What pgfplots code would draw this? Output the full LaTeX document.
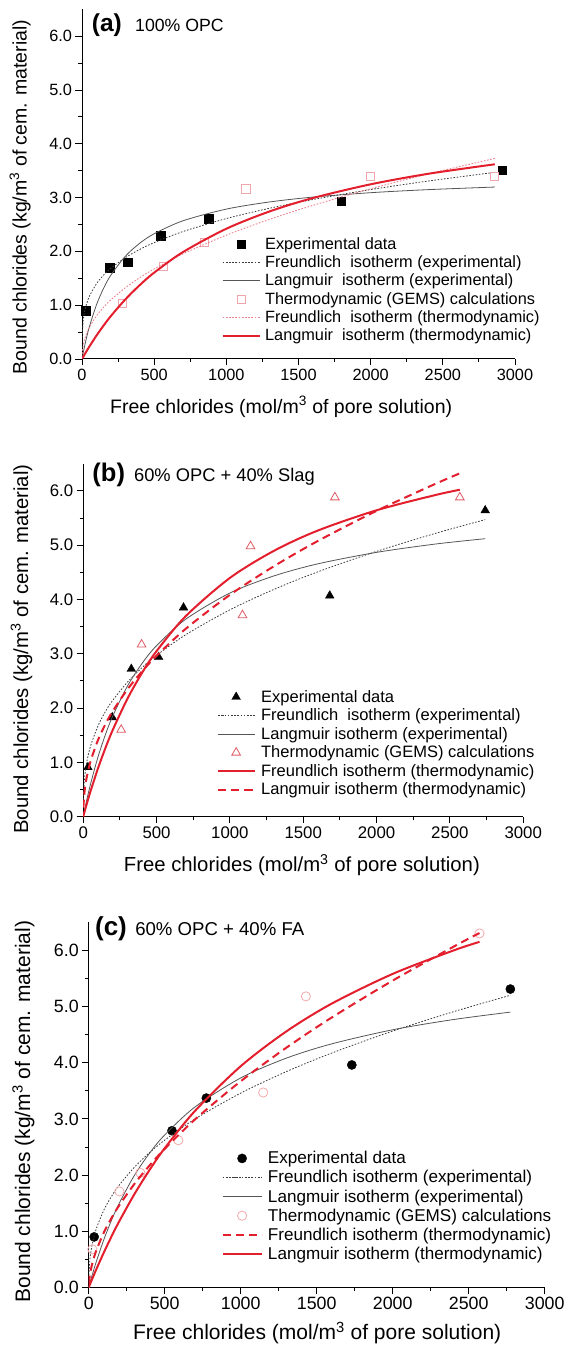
\documentclass[border=0pt]{standalone}
\usepackage{fontspec}
\setmainfont{Liberation Sans}
\usepackage{pgfplots}
\pgfplotsset{compat=1.18}
\definecolor{myred}{RGB}{227,30,45}
\definecolor{pinka}{RGB}{240,165,172}
\definecolor{pinkdot}{RGB}{236,128,142}
\definecolor{redtri}{RGB}{222,90,100}
\definecolor{pinkc}{RGB}{244,170,172}
\definecolor{dgray}{RGB}{60,60,60}
\definecolor{mgray}{RGB}{85,85,85}
\pgfplotsset{
 chl/.style={
  scale only axis, xmin=0, xmax=3000, ymin=0, ymax=6.5,
  clip mode=individual,
  axis x line*=bottom, axis y line*=left,
  axis line style={-, line width=1pt},
  tick align=outside, major tick length=6.5pt, minor tick length=3.5pt,
  every tick/.append style={black, line width=0.9pt},
  xtick={0,500,...,3000}, ytick={0,1,...,6},
  minor x tick num=1, minor y tick num=1,
  /pgf/number format/assume math mode=true,
  xticklabel style={/pgf/number format/1000 sep={}},
  yticklabel style={/pgf/number format/.cd, fixed, fixed zerofill, precision=1},
  legend cell align=left,
  legend image code/.code={\draw[mark repeat=2,mark phase=2,##1] plot coordinates {(0pt,0pt) (18.5pt,0pt) (37pt,0pt)};},
  xlabel={Free chlorides (mol/m\textsuperscript{3} of pore solution)},
  ylabel={Bound chlorides (kg/m\textsuperscript{3} of cem. material)},
 },
 fe/.style={dgray, line width=0.8pt, dash pattern=on 1.6pt off 1.6pt, smooth, no markers},
 le/.style={mgray, line width=0.8pt, smooth, no markers},
}
\begin{document}
\begin{tikzpicture}
\useasboundingbox (0,0) rectangle (567pt,1346pt);
% ---------------- (a) ----------------
\begin{axis}[chl, at={(82pt,987pt)}, anchor=south west, width=433pt, height=349.7pt,
 tick label style={font=\fontsize{16.3}{19}\selectfont},
 label style={font=\fontsize{19.5}{23}\selectfont},
 xlabel style={at={(axis description cs:0.46,-0.137)}, anchor=center},
 ylabel style={at={(axis description cs:-0.143,0.463)}, anchor=center},
 legend style={at={(0.322,0.355)}, anchor=north west, draw=none, fill=none, inner sep=0pt,
   column sep=4.5pt, font=\fontsize{16.3}{19}\selectfont, nodes={inner xsep=0pt, inner ysep=2.5pt}},
]
\addplot[only marks, mark=square*, mark size=4.2pt, black] coordinates {
(25,0.90) (193,1.70) (318,1.80) (546,2.29) (877,2.61) (1797,2.93) (2912,3.51)};
\addlegendentry{Experimental data}
\addplot[fe] coordinates {
(1,0.401) (10,0.749) (25,0.960) (50,1.159) (100,1.398) (150,1.561) (200,1.687) (300,1.883) (400,2.036) (500,2.163) (700,2.369) (1000,2.610) (1300,2.802) (1600,2.964) (2000,3.149) (2400,3.308) (2860,3.469)};
\addlegendentry{Freundlich\ \ isotherm (experimental)}
\addplot[le] coordinates {
(0,0) (10,0.136) (25,0.321) (50,0.588) (100,1.005) (150,1.317) (200,1.558) (300,1.909) (400,2.151) (500,2.328) (700,2.569) (1000,2.786) (1300,2.919) (1600,3.009) (2000,3.091) (2400,3.148) (2860,3.196)};
\addlegendentry{Langmuir\ \ isotherm (experimental)}
\addplot[only marks, mark=square, mark size=4.2pt, pinka, mark options={line width=0.8pt}] coordinates {
(281,1.03) (564,1.72) (847,2.17) (1135,3.16) (1997,3.39) (2857,3.39)};
\addlegendentry{Thermodynamic (GEMS) calculations}
\addplot[pinkdot, line width=0.9pt, dash pattern=on 1.6pt off 1.6pt, smooth, no markers] coordinates {
(1,0.097) (10,0.278) (25,0.423) (50,0.582) (100,0.800) (150,0.963) (200,1.100) (300,1.324) (400,1.511) (500,1.674) (700,1.954) (1000,2.301) (1300,2.596) (1600,2.856) (2000,3.164) (2400,3.440) (2860,3.728)};
\addlegendentry{Freundlich\ \ isotherm (thermodynamic)}
\addplot[myred, line width=2pt, smooth, no markers] coordinates {
(0,0) (10,0.047) (25,0.116) (50,0.227) (100,0.434) (150,0.623) (200,0.798) (300,1.107) (400,1.373) (500,1.605) (700,1.988) (1000,2.421) (1300,2.743) (1600,2.992) (2000,3.247) (2400,3.443) (2860,3.619)};
\addlegendentry{Langmuir\ \ isotherm (thermodynamic)}
\node[anchor=base west, inner sep=0pt, font=\bfseries\fontsize{24.5}{28}\selectfont] at (axis cs:67,6.08) {(a)};
\node[anchor=base west, inner sep=0pt, font=\fontsize{17.7}{21}\selectfont] at (axis cs:367,6.08) {100\% OPC};
\end{axis}
% ---------------- (b) ----------------
\begin{axis}[chl, at={(83.2pt,529.3pt)}, anchor=south west, width=440pt, height=353pt,
 tick label style={font=\fontsize{16.8}{20}\selectfont},
 label style={font=\fontsize{20.3}{24}\selectfont},
 xlabel style={at={(axis description cs:0.497,-0.137)}, anchor=center},
 ylabel style={at={(axis description cs:-0.140,0.475)}, anchor=center},
 legend style={at={(0.304,0.366)}, anchor=north west, draw=none, fill=none, inner sep=0pt,
   column sep=6pt, font=\fontsize{16.5}{19.5}\selectfont, nodes={inner xsep=0pt, inner ysep=2.55pt}},
 legend image code/.code={\draw[mark repeat=2,mark phase=2,#1] plot coordinates {(0pt,0pt) (18pt,0pt) (36pt,0pt)};},
]
\addplot[only marks, mark=triangle*, mark size=5pt, black] coordinates {
(32,0.91) (198,1.83) (328,2.72) (514,2.94) (684,3.85) (1681,4.07) (2741,5.64)};
\addlegendentry{Experimental data}
\addplot[fe] coordinates {
(1,0.320) (10,0.730) (25,1.014) (50,1.300) (100,1.668) (150,1.929) (200,2.138) (300,2.473) (400,2.742) (500,2.971) (700,3.352) (1000,3.809) (1300,4.185) (1600,4.509) (2000,4.885) (2400,5.216) (2741,5.470)};
\addlegendentry{Freundlich\ \ isotherm (experimental)}
\addplot[le] coordinates {
(0,0) (10,0.131) (25,0.317) (50,0.601) (100,1.092) (150,1.500) (200,1.845) (300,2.397) (400,2.817) (500,3.149) (700,3.638) (1000,4.118) (1300,4.433) (1600,4.656) (2000,4.867) (2400,5.020) (2741,5.119)};
\addlegendentry{Langmuir isotherm (experimental)}
\addplot[only marks, mark=triangle, mark size=5pt, redtri, mark options={line width=0.8pt}] coordinates {
(259,1.60) (398,3.17) (1086,3.71) (1141,4.98) (1716,5.88) (2568,5.88)};
\addlegendentry{Thermodynamic (GEMS) calculations}
\addplot[myred, line width=2pt, smooth, no markers] coordinates {
(0,0) (10,0.098) (25,0.241) (50,0.468) (100,0.883) (150,1.254) (200,1.588) (300,2.164) (400,2.643) (500,3.048) (700,3.695) (1000,4.396) (1300,4.895) (1600,5.269) (2000,5.642) (2400,5.922) (2568,6.020)};
\addlegendentry{Freundlich isotherm (thermodynamic)}
\addplot[myred, line width=2pt, dash pattern=on 8pt off 5pt, smooth, no markers] coordinates {
(1,0.166) (10,0.484) (25,0.739) (50,1.019) (100,1.405) (150,1.696) (200,1.937) (300,2.338) (400,2.671) (500,2.962) (700,3.462) (1000,4.084) (1300,4.611) (1600,5.077) (2000,5.631) (2400,6.127) (2568,6.322)};
\addlegendentry{Langmuir isotherm (thermodynamic)}
\node[anchor=base west, inner sep=0pt, font=\bfseries\fontsize{25.5}{29}\selectfont] at (axis cs:62,6.17) {(b)};
\node[anchor=base west, inner sep=0pt, font=\fontsize{18.3}{22}\selectfont] at (axis cs:346,6.17) {60\% OPC + 40\% Slag};
\end{axis}
% ---------------- (c) ----------------
\begin{axis}[chl, at={(88.7pt,58.5pt)}, anchor=south west, width=456pt, height=365.3pt,
 tick label style={font=\fontsize{17.8}{21}\selectfont},
 label style={font=\fontsize{21}{25}\selectfont},
 xlabel style={at={(axis description cs:0.501,-0.125)}, anchor=center},
 ylabel style={at={(axis description cs:-0.143,0.481)}, anchor=center},
 legend style={at={(0.291,0.380)}, anchor=north west, draw=none, fill=none, inner sep=0pt,
   column sep=5.4pt, font=\fontsize{17.1}{20}\selectfont, nodes={inner xsep=0pt, inner ysep=2.6pt}},
 legend image code/.code={\draw[mark repeat=2,mark phase=2,#1] plot coordinates {(0pt,0pt) (19.5pt,0pt) (39pt,0pt)};},
]
\addplot[only marks, mark=*, mark size=4.6pt, black] coordinates {
(36,0.90) (548,2.79) (774,3.37) (1731,3.96) (2774,5.31)};
\addlegendentry{Experimental data}
\addplot[fe] coordinates {
(1,0.219) (10,0.550) (25,0.792) (50,1.045) (100,1.379) (150,1.621) (200,1.819) (300,2.138) (400,2.399) (500,2.622) (700,3.000) (1000,3.459) (1300,3.841) (1600,4.173) (2000,4.563) (2400,4.907) (2774,5.200)};
\addlegendentry{Freundlich isotherm (experimental)}
\addplot[le] coordinates {
(0,0) (10,0.098) (25,0.239) (50,0.460) (100,0.855) (150,1.196) (200,1.494) (300,1.992) (400,2.389) (500,2.714) (700,3.214) (1000,3.729) (1300,4.081) (1600,4.336) (2000,4.586) (2400,4.768) (2774,4.900)};
\addlegendentry{Langmuir isotherm (experimental)}
\addplot[only marks, mark=o, mark size=4.6pt, pinkc, mark options={line width=0.8pt}] coordinates {
(24,0.68) (202,1.71) (340,2.04) (590,2.62) (1148,3.47) (1429,5.18) (2571,6.30)};
\addlegendentry{Thermodynamic (GEMS) calculations}
\addplot[myred, line width=2pt, dash pattern=on 8pt off 5pt, smooth, no markers] coordinates {
(1,0.070) (10,0.262) (25,0.442) (50,0.658) (100,0.980) (150,1.236) (200,1.458) (300,1.840) (400,2.170) (500,2.466) (700,2.992) (1000,3.670) (1300,4.266) (1600,4.806) (2000,5.461) (2400,6.064) (2571,6.307)};
\addlegendentry{Freundlich isotherm (thermodynamic)}
\addplot[myred, line width=2pt, smooth, no markers] coordinates {
(0,0) (10,0.066) (25,0.164) (50,0.323) (100,0.625) (150,0.908) (200,1.173) (300,1.658) (400,2.090) (500,2.478) (700,3.144) (1000,3.937) (1300,4.556) (1600,5.053) (2000,5.580) (2400,5.997) (2571,6.150)};
\addlegendentry{Langmuir isotherm (thermodynamic)}
\node[anchor=base west, inner sep=0pt, font=\bfseries\fontsize{26}{30}\selectfont] at (axis cs:41,6.27) {(c)};
\node[anchor=base west, inner sep=0pt, font=\fontsize{18.6}{22}\selectfont] at (axis cs:305,6.27) {60\% OPC + 40\% FA};
\end{axis}
\end{tikzpicture}
\end{document}
